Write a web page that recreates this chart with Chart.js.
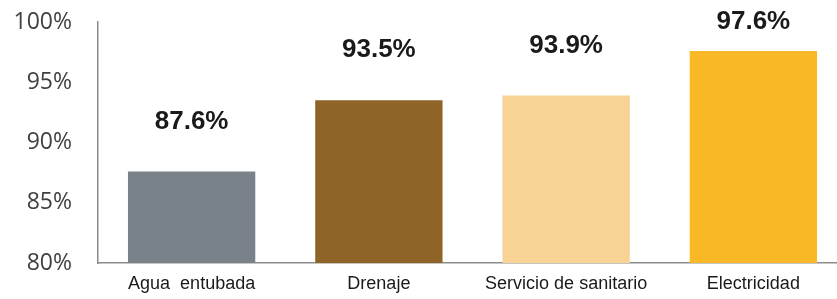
<!DOCTYPE html>
<html><head><meta charset="utf-8">
<script src="https://cdn.jsdelivr.net/npm/chart.js@4"></script>
<style>html,body{margin:0;padding:0;background:#fff;overflow:hidden}#w{width:848px;height:299px}</style>
</head><body><div id="w"><canvas id="c"></canvas></div>
<script>
const categories = ["Agua  entubada", "Drenaje", "Servicio de sanitario", "Electricidad"];
const values = [87.6, 93.5, 93.9, 97.6];
const barColors = ["#7a8289", "#8f6428", "#f8d395", "#f9b926"];
const yTicks = [80, 85, 90, 95, 100];

const labelPlugin = {
  id: 'vals',
  afterDatasetsDraw(chart) {
    const ctx = chart.ctx;
    const meta = chart.getDatasetMeta(0);
    ctx.save();
    ctx.font = 'bold 26px "Liberation Sans", Arial, sans-serif';
    ctx.fillStyle = '#1a1a1a';
    ctx.textAlign = 'center';
    ctx.textBaseline = 'middle';
    meta.data.forEach((bar, i) => {
      ctx.fillText(values[i].toFixed(1) + '%', bar.x, Math.max(bar.y - 50, 22));
    });
    ctx.restore();
  }
};

new Chart(document.getElementById('c'), {
  type: 'bar',
  data: {
    labels: categories,
    datasets: [{ data: values, backgroundColor: barColors, barPercentage: 0.68, categoryPercentage: 1 }]
  },
  options: {
    responsive: true, maintainAspectRatio: false, animation: false,
    layout: { padding: { top: 22, right: 1, left: 12, bottom: 1 } },
    plugins: { legend: { display: false }, tooltip: { enabled: false } },
    scales: {
      x: {
        grid: { display: false, drawTicks: false, tickLength: 0 },
        border: { display: true, color: '#8c8c8c', width: 1.5 },
        ticks: { color: '#1a1a1a', font: { family: '"Liberation Sans", Arial, sans-serif', size: 18 }, padding: 10 },
        afterFit(axis) { axis.paddingLeft = 0; axis.paddingRight = 0; axis.height = 35; }
      },
      y: {
        min: 80, max: 100,
        grid: { display: false, drawTicks: false, tickLength: 0 },
        border: { display: true, color: '#8c8c8c', width: 1.5 },
        afterBuildTicks(axis) { axis.ticks = yTicks.map(v => ({ value: v })); },
        afterFit(axis) { axis.paddingTop = 0; axis.paddingBottom = 0; axis.width = 86; },
        ticks: {
          color: '#404040', padding: 26,
          font: { family: '"Open Sans", "Liberation Sans", sans-serif', size: 23 },
          callback: v => v + '%'
        }
      }
    }
  },
  plugins: [labelPlugin]
});
</script></body></html>
